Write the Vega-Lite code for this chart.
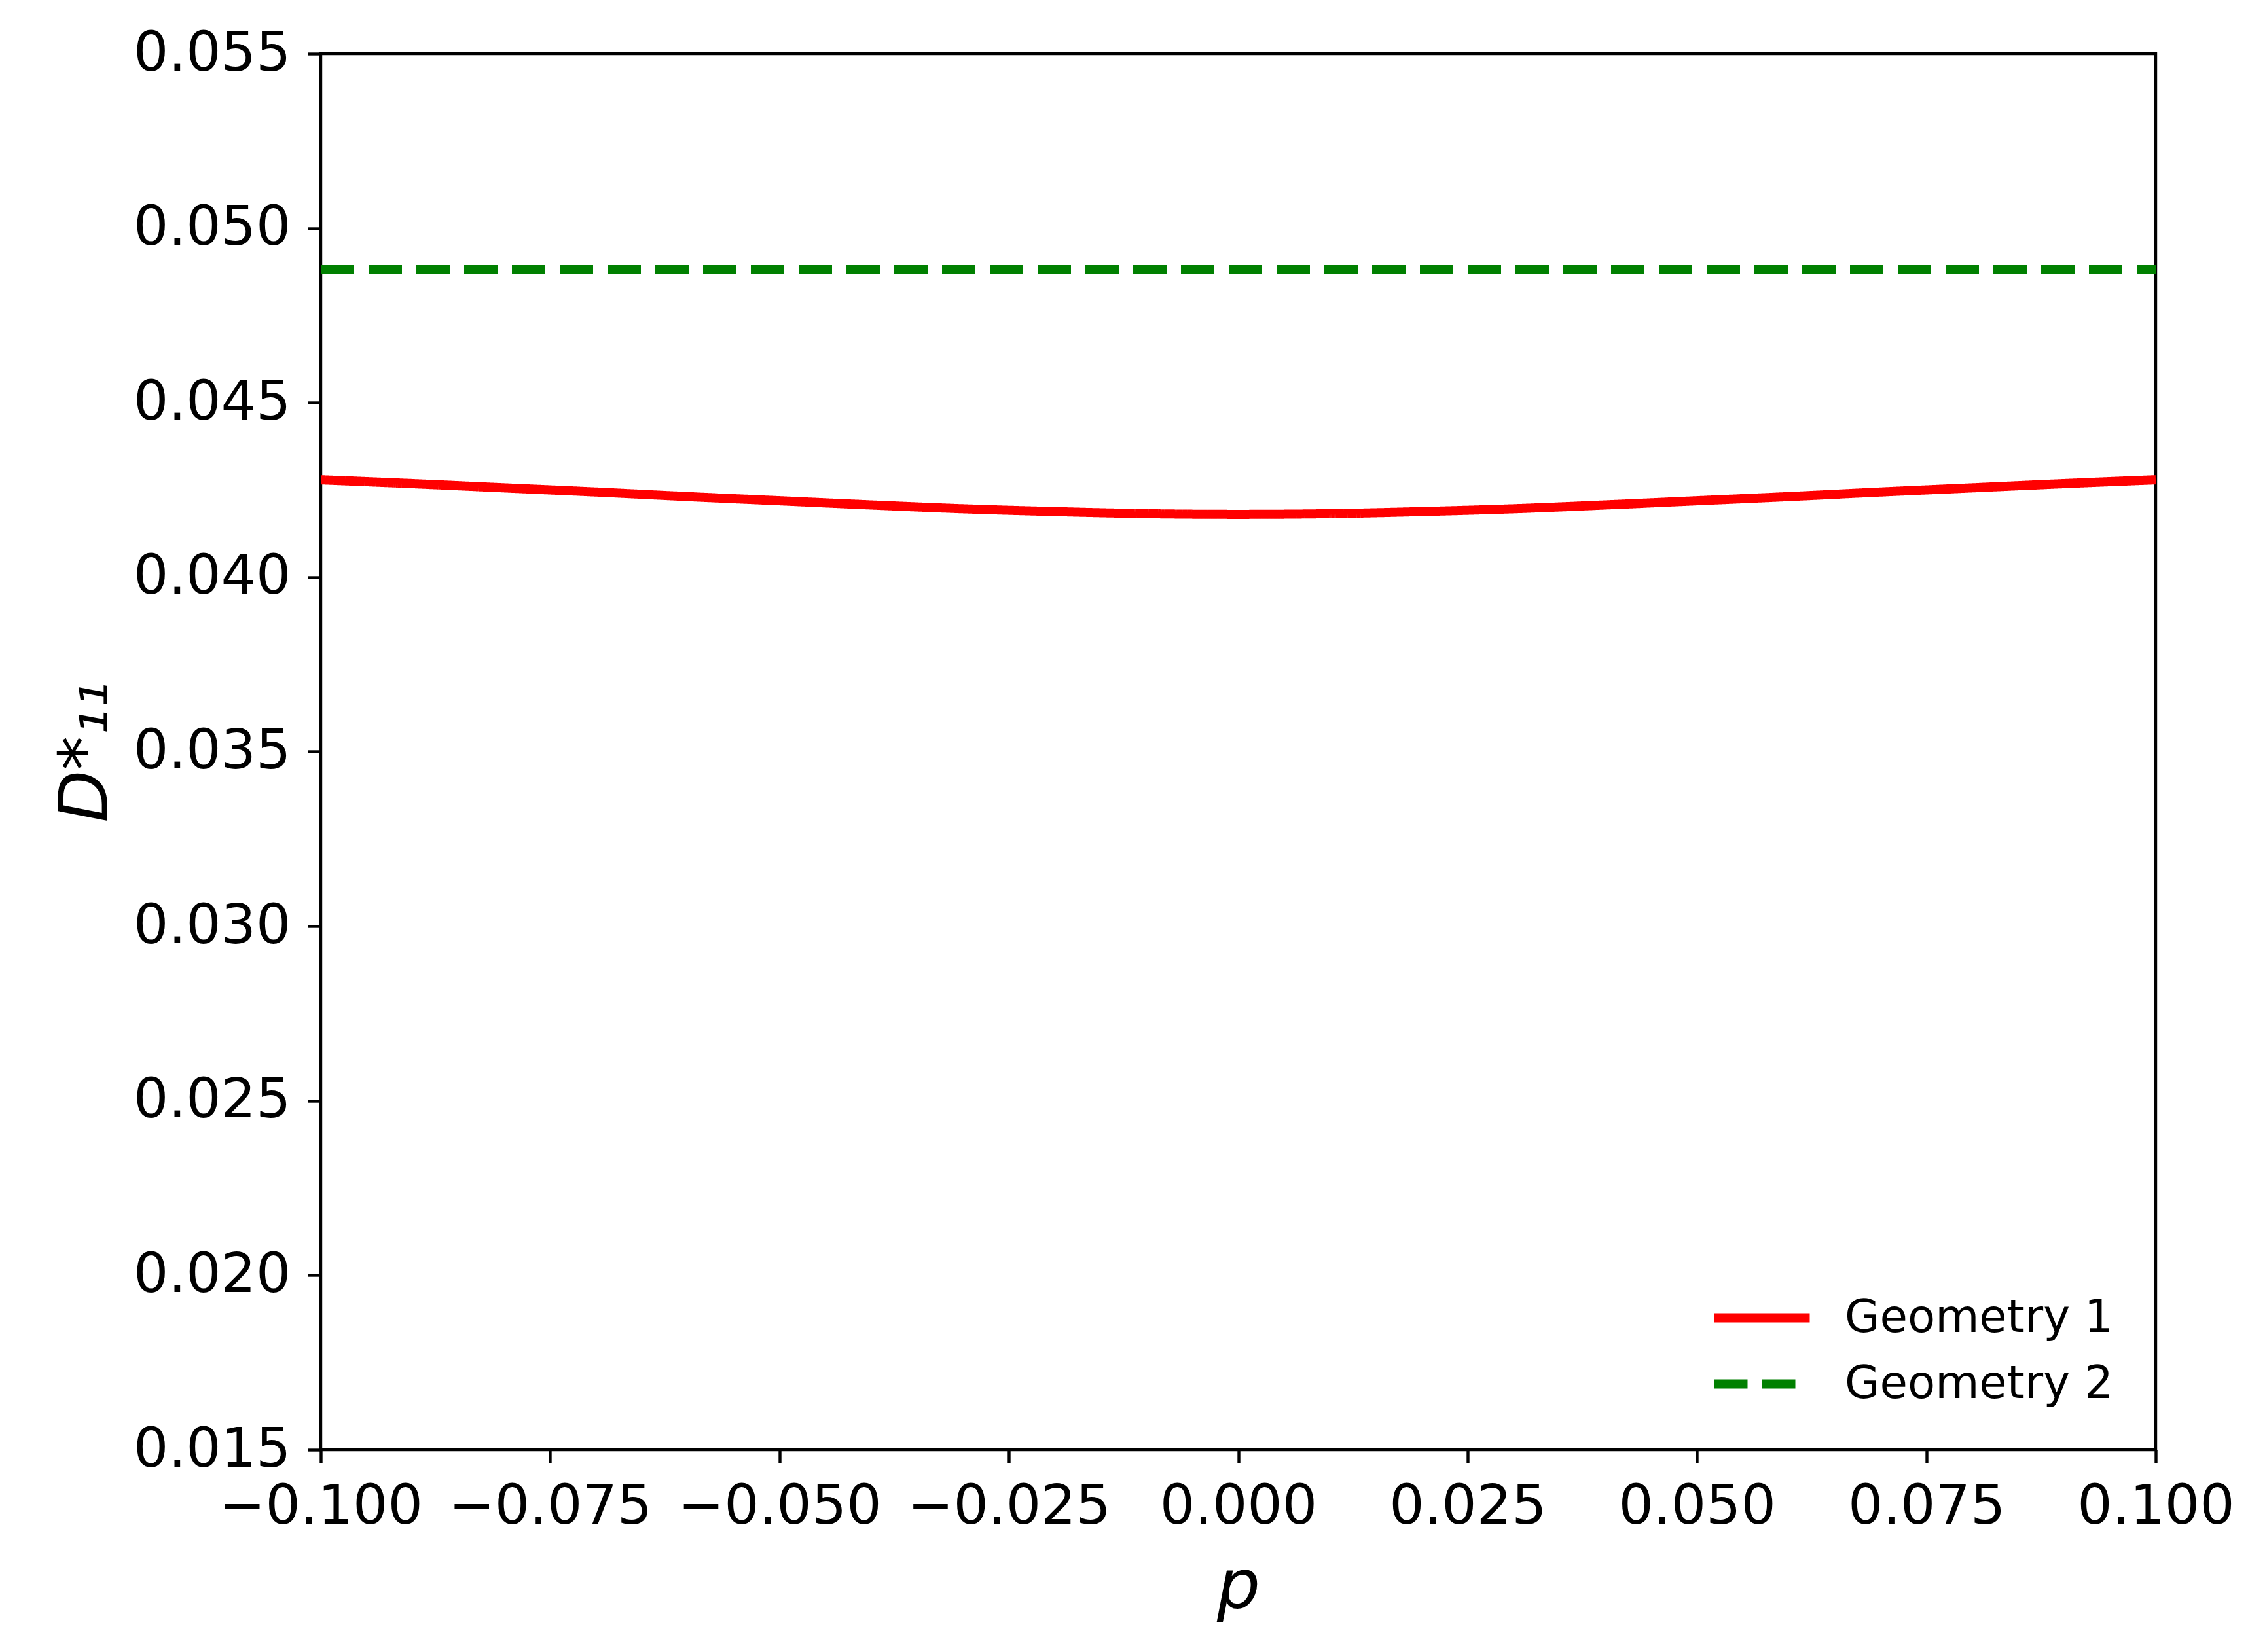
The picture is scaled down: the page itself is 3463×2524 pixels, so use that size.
{
  "$schema": "https://vega.github.io/schema/vega-lite/v6.json",
  "autosize": {"type": "none"},
  "padding": {"left": 490, "top": 82, "right": 170, "bottom": 309},
  "width": 2803,
  "height": 2133,
  "background": "white",
  "config": {
    "font": "DejaVu Sans",
    "view": {"stroke": "black", "strokeWidth": 4.4},
    "axis": {
      "grid": false,
      "domain": false,
      "tickColor": "black",
      "tickWidth": 4.4,
      "tickSize": 20,
      "labelColor": "black",
      "labelFont": "DejaVu Sans",
      "labelFontSize": 84,
      "labelPadding": 26,
      "labelLimit": 0,
      "labelOverlap": false,
      "labelFlush": false,
      "titleColor": "black",
      "titleFont": "DejaVu Sans",
      "titleFontSize": 104,
      "titleFontWeight": "normal",
      "titleFontStyle": "italic"
    },
    "legend": {
      "labelFont": "DejaVu Sans",
      "labelFontSize": 69,
      "labelColor": "black",
      "labelLimit": 0
    }
  },
  "data": {
    "values": [
      {"p": -0.10, "D": 0.04279, "series": "Geometry 1"},
      {"p": -0.09, "D": 0.04268, "series": "Geometry 1"},
      {"p": -0.08, "D": 0.04256, "series": "Geometry 1"},
      {"p": -0.07, "D": 0.04244, "series": "Geometry 1"},
      {"p": -0.06, "D": 0.04231, "series": "Geometry 1"},
      {"p": -0.05, "D": 0.04219, "series": "Geometry 1"},
      {"p": -0.04, "D": 0.04207, "series": "Geometry 1"},
      {"p": -0.03, "D": 0.04196, "series": "Geometry 1"},
      {"p": -0.02, "D": 0.04188, "series": "Geometry 1"},
      {"p": -0.01, "D": 0.04182, "series": "Geometry 1"},
      {"p": 0.00, "D": 0.04180, "series": "Geometry 1"},
      {"p": 0.01, "D": 0.04182, "series": "Geometry 1"},
      {"p": 0.02, "D": 0.04188, "series": "Geometry 1"},
      {"p": 0.03, "D": 0.04196, "series": "Geometry 1"},
      {"p": 0.04, "D": 0.04207, "series": "Geometry 1"},
      {"p": 0.05, "D": 0.04219, "series": "Geometry 1"},
      {"p": 0.06, "D": 0.04231, "series": "Geometry 1"},
      {"p": 0.07, "D": 0.04244, "series": "Geometry 1"},
      {"p": 0.08, "D": 0.04256, "series": "Geometry 1"},
      {"p": 0.09, "D": 0.04268, "series": "Geometry 1"},
      {"p": 0.10, "D": 0.04279, "series": "Geometry 1"},
      {"p": -0.10, "D": 0.04881, "series": "Geometry 2"},
      {"p": -0.05, "D": 0.04881, "series": "Geometry 2"},
      {"p": 0.00, "D": 0.04881, "series": "Geometry 2"},
      {"p": 0.05, "D": 0.04881, "series": "Geometry 2"},
      {"p": 0.10, "D": 0.04881, "series": "Geometry 2"}
    ]
  },
  "mark": {"type": "line", "strokeWidth": 14, "interpolate": "monotone", "clip": true},
  "encoding": {
    "x": {
      "field": "p",
      "type": "quantitative",
      "title": "p",
      "scale": {"domain": [-0.1, 0.1], "nice": false, "zero": false},
      "axis": {
        "values": [-0.1, -0.075, -0.05, -0.025, 0, 0.025, 0.05, 0.075, 0.1],
        "format": ".3f",
        "titlePadding": 30
      }
    },
    "y": {
      "field": "D",
      "type": "quantitative",
      "title": "D*₁₁",
      "scale": {"domain": [0.015, 0.055], "nice": false, "zero": false},
      "axis": {
        "values": [0.015, 0.02, 0.025, 0.03, 0.035, 0.04, 0.045, 0.05, 0.055],
        "format": ".3f",
        "titlePadding": 105
      }
    },
    "color": {
      "field": "series",
      "type": "nominal",
      "scale": {"domain": ["Geometry 1", "Geometry 2"], "range": ["#ff0000", "#008000"]},
      "legend": {
        "title": null,
        "orient": "bottom-right",
        "offset": 65,
        "padding": 0,
        "symbolType": "M-2,0H2",
        "symbolSize": 5329,
        "symbolStrokeWidth": 14,
        "labelOffset": 83,
        "rowPadding": 22
      }
    },
    "strokeDash": {
      "field": "series",
      "type": "nominal",
      "scale": {"domain": ["Geometry 1", "Geometry 2"], "range": [[1, 0], [51, 22]]},
      "legend": {
        "title": null,
        "orient": "bottom-right",
        "offset": 65,
        "padding": 0,
        "symbolType": "M-2,0H2",
        "symbolSize": 5329,
        "symbolStrokeWidth": 14,
        "labelOffset": 83,
        "rowPadding": 22
      }
    }
  }
}
